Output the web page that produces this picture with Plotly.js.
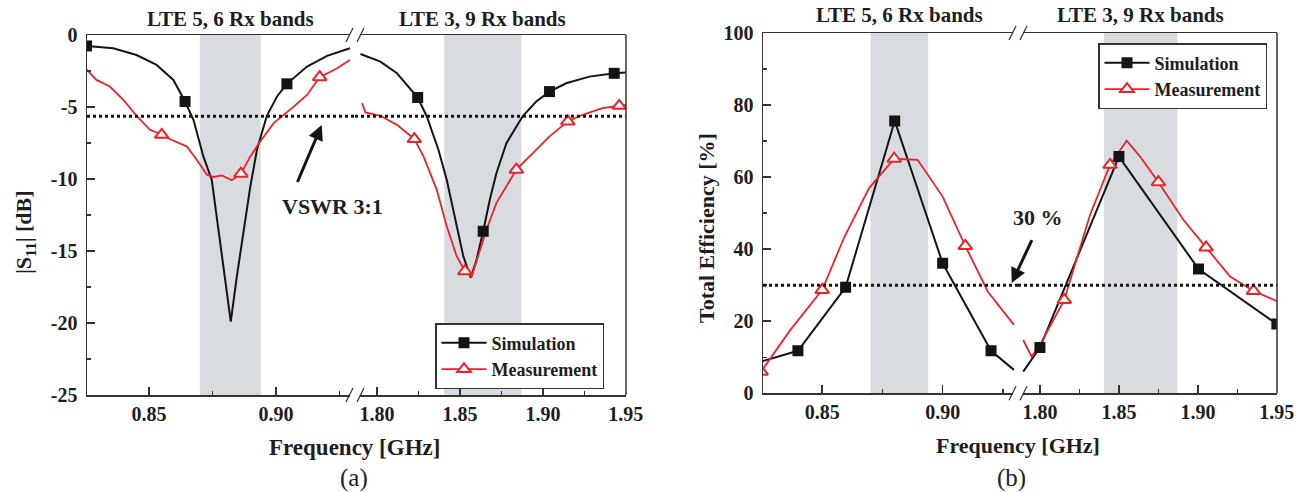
<!DOCTYPE html>
<html><head><meta charset="utf-8">
<script src="https://cdn.plot.ly/plotly-3.0.1.min.js"></script>
<style>html,body{margin:0;padding:0;background:#fff;}#chart{width:1304px;height:493px;}</style>
</head><body><div id="chart"></div>
<script>
// ---------------- DATA ----------------
// (a) |S11| [dB] — low band segment (GHz)
const s11SimFreqLow = [0.8254,0.8359,0.8451,0.8530,0.8596,0.8642,0.8675,0.8714,0.8747,0.8774,0.8793,0.8822,0.8846,0.8872,0.8899,0.8925,0.8964,0.9004,0.9043,0.9122,0.9201,0.9291];
const s11SimLow     = [-0.76,-0.92,-1.39,-2.08,-3.12,-4.62,-5.89,-8.43,-10.05,-13.74,-16.28,-19.9,-16.74,-13.51,-10.51,-7.97,-5.61,-4.27,-3.39,-2.19,-1.45,-0.92];
const s11SimMarkFreqLow = [0.8254,0.8642,0.9043];
const s11SimMarkLow     = [-0.76,-4.62,-3.39];

const s11MeasFreqLow = [0.8254,0.8293,0.8346,0.8399,0.8451,0.8504,0.8550,0.8596,0.8649,0.8688,0.8728,0.8754,0.8787,0.8807,0.8826,0.8862,0.8899,0.8938,0.8991,0.9070,0.9122,0.9172,0.9241,0.9291];
const s11MeasLow     = [-2.38,-3.12,-3.58,-4.50,-5.61,-6.58,-6.93,-7.34,-7.74,-8.66,-9.70,-9.86,-9.75,-9.93,-10.09,-9.63,-8.43,-7.39,-6.12,-4.97,-4.16,-2.93,-2.31,-1.73];
const s11MeasMarkFreqLow = [0.8550,0.8862,0.9172];
const s11MeasMarkLow     = [-6.93,-9.63,-2.93];

// (a) high band segment
const s11SimFreqHigh = [1.790,1.802,1.812,1.8245,1.830,1.837,1.842,1.847,1.852,1.8565,1.860,1.864,1.868,1.872,1.878,1.888,1.896,1.904,1.914,1.928,1.943,1.950];
const s11SimHigh     = [-1.32,-1.85,-2.66,-4.34,-5.66,-7.97,-10.05,-12.59,-15.36,-16.86,-15.59,-13.63,-11.43,-9.58,-7.51,-5.61,-4.62,-3.93,-3.35,-2.89,-2.66,-2.61];
const s11SimMarkFreqHigh = [1.8245,1.864,1.904,1.943];
const s11SimMarkHigh     = [-4.34,-13.63,-3.93,-2.66];

const s11MeasFreqHigh = [1.791,1.793,1.802,1.812,1.8225,1.828,1.836,1.842,1.848,1.853,1.857,1.861,1.866,1.872,1.884,1.894,1.904,1.915,1.924,1.936,1.946,1.950];
const s11MeasHigh     = [-4.73,-5.38,-5.61,-6.24,-7.23,-8.43,-10.74,-13.28,-15.36,-16.40,-16.79,-15.36,-13.51,-11.66,-9.35,-8.20,-7.04,-6.0,-5.54,-5.08,-4.92,-4.85];
const s11MeasMarkFreqHigh = [1.8225,1.853,1.884,1.915,1.946];
const s11MeasMarkHigh     = [-7.23,-16.40,-9.35,-6.0,-4.92];

const vswrLevel = -5.65;           // VSWR 3:1 line
const s11TickVals = [-25,-20,-15,-10,-5,0];
const s11TickText = ['-25','-20','-15','-10','-5','0'];

// (b) Total efficiency [%]
const effSimFreqLow = [0.8246,0.8399,0.8597,0.8801,0.9000,0.9201,0.9296];
const effSimLow     = [8.8,11.8,29.4,75.6,36.1,11.8,6.5];
const effSimMarkFreqLow = [0.8399,0.8597,0.8801,0.9000,0.9201];
const effSimMarkLow     = [11.8,29.4,75.6,36.1,11.8];

const effMeasFreqLow = [0.8246,0.8368,0.85,0.859,0.8694,0.8799,0.8896,0.9,0.9094,0.9188,0.9296];
const effMeasLow     = [6.0,17.6,28.7,43.1,56.9,65.1,64.8,54.6,40.9,28.2,19.0];
const effMeasMarkFreqLow = [0.8246,0.85,0.8799,0.9094];
const effMeasMarkLow     = [6.0,28.7,65.1,40.9];

const effSimFreqHigh = [1.7894,1.80,1.850,1.9004,1.95];
const effSimHigh     = [6.0,12.7,65.7,34.5,19.2];
const effSimMarkFreqHigh = [1.80,1.850,1.9004,1.95];
const effSimMarkHigh     = [12.7,65.7,34.5,19.2];

const effMeasFreqHigh = [1.7894,1.7947,1.80,1.8154,1.8317,1.8444,1.8549,1.8634,1.875,1.8909,1.9052,1.9204,1.9352,1.95];
const effMeasHigh     = [14.8,10.2,13.4,25.9,49.5,63.4,70.1,65.7,58.6,48.1,40.5,32.4,28.4,25.6];
const effMeasMarkFreqHigh = [1.8154,1.8444,1.875,1.9052,1.9352];
const effMeasMarkHigh     = [25.9,63.4,58.6,40.5,28.4];

const effLevel = 30;

// Rx bands (GHz)
const bandLow  = [0.870, 0.894];
const bandHigh = [1.8405, 1.887];
const bandLabels = ['LTE 5, 6 Rx bands', 'LTE 3, 9 Rx bands'];
const seriesNames = ['Simulation', 'Measurement'];

// ---------------- STYLE / LAYOUT ----------------
const W = 1304, H = 493;
const px = v => v / W, py = v => 1 - v / H;
const SERIF = 'Liberation Serif, Times New Roman, serif';
const TXT = '#1e1e1e';
const RED = '#ec2227';
const BLK = '#141414';
const AX = '#333333';
const BAND = '#d8dbe0';

const simLine = {color: BLK, width: 2};
const measLine = {color: RED, width: 1.8};
const simMarker = {symbol: 'square', size: 11, color: BLK, line: {width: 0}};
const measMarker = {symbol: 'triangle-up', size: 12, color: '#ffffff', line: {color: RED, width: 2}};

function lineTrace(x, y, xa, ya, ln) {
  return {type: 'scatter', mode: 'lines', x, y, xaxis: xa, yaxis: ya, line: ln, showlegend: false, hoverinfo: 'skip'};
}
function markTrace(x, y, xa, ya, mk) {
  return {type: 'scatter', mode: 'markers', x, y, xaxis: xa, yaxis: ya, marker: mk, showlegend: false, hoverinfo: 'skip'};
}
function legendTrace(name, ln, mk, xa, ya, lg) {
  return {type: 'scatter', mode: 'lines+markers', x: [null], y: [null], xaxis: xa, yaxis: ya, name, line: ln, marker: mk, legend: lg, showlegend: true};
}

const data = [
  lineTrace(s11SimFreqLow, s11SimLow, 'x', 'y', simLine),
  lineTrace(s11MeasFreqLow, s11MeasLow, 'x', 'y', measLine),
  markTrace(s11SimMarkFreqLow, s11SimMarkLow, 'x', 'y', simMarker),
  markTrace(s11MeasMarkFreqLow, s11MeasMarkLow, 'x', 'y', measMarker),
  lineTrace(s11SimFreqHigh, s11SimHigh, 'x2', 'y', simLine),
  lineTrace(s11MeasFreqHigh, s11MeasHigh, 'x2', 'y', measLine),
  markTrace(s11SimMarkFreqHigh, s11SimMarkHigh, 'x2', 'y', simMarker),
  markTrace(s11MeasMarkFreqHigh, s11MeasMarkHigh, 'x2', 'y', measMarker),

  lineTrace(effSimFreqLow, effSimLow, 'x3', 'y2', simLine),
  lineTrace(effMeasFreqLow, effMeasLow, 'x3', 'y2', measLine),
  markTrace(effSimMarkFreqLow, effSimMarkLow, 'x3', 'y2', simMarker),
  markTrace(effMeasMarkFreqLow, effMeasMarkLow, 'x3', 'y2', measMarker),
  lineTrace(effSimFreqHigh, effSimHigh, 'x4', 'y2', simLine),
  lineTrace(effMeasFreqHigh, effMeasHigh, 'x4', 'y2', measLine),
  markTrace(effSimMarkFreqHigh, effSimMarkHigh, 'x4', 'y2', simMarker),
  markTrace(effMeasMarkFreqHigh, effMeasMarkHigh, 'x4', 'y2', measMarker),

  legendTrace(seriesNames[0], simLine, simMarker, 'x', 'y', 'legend'),
  legendTrace(seriesNames[1], measLine, measMarker, 'x', 'y', 'legend'),
  legendTrace(seriesNames[0], simLine, simMarker, 'x3', 'y2', 'legend2'),
  legendTrace(seriesNames[1], measLine, measMarker, 'x3', 'y2', 'legend2')
];

const tickFont = {family: SERIF, size: 20, color: TXT, weight: 'bold'};
function xAxis(domain, range, anchor) {
  return {
    domain, range, anchor, showline: true, mirror: true, linecolor: AX, linewidth: 1.5,
    ticks: 'inside', ticklen: 8, tickwidth: 1.5, tickcolor: AX,
    tick0: 0.8, dtick: 0.05, tickformat: '.2f', tickfont: tickFont,
    minor: {tick0: 0.8, dtick: 0.025, ticks: 'inside', ticklen: 4, tickwidth: 1.5, tickcolor: AX, showgrid: false},
    showgrid: false, zeroline: false, fixedrange: true
  };
}
function yAxis(domain, range, anchor, extra) {
  return Object.assign({
    domain, range, anchor, showline: true, mirror: false, linecolor: AX, linewidth: 1.5,
    ticks: 'inside', ticklen: 8, tickwidth: 1.5, tickcolor: AX, tickfont: tickFont,
    ticklabelstandoff: 4,
    showgrid: false, zeroline: false, fixedrange: true
  }, extra);
}

// pixel geometry of the two panels
const A = {l: 87, brk: 355, r: 626, t: 35, b: 395};
const B = {l: 763, brk: 1018, r: 1277, t: 33, b: 393.3};

const layout = {
  width: W, height: H, autosize: false,
  margin: {l: 0, r: 0, t: 0, b: 0, pad: 0},
  paper_bgcolor: '#ffffff', plot_bgcolor: '#ffffff',
  font: {family: SERIF, color: TXT},
  xaxis:  xAxis([px(A.l), px(A.brk)], [0.8256, 0.9311], 'y'),
  xaxis2: xAxis([px(A.brk), px(A.r)], [1.7867, 1.9501], 'y'),
  xaxis3: xAxis([px(B.l), px(B.brk)], [0.8254, 0.9313], 'y2'),
  xaxis4: xAxis([px(B.brk), px(B.r)], [1.7861, 1.9501], 'y2'),
  yaxis:  yAxis([py(A.b), py(A.t)], [-25, 0], 'x', {tickvals: s11TickVals, ticktext: s11TickText,
           minor: {tick0: 0, dtick: 2.5, ticks: 'inside', ticklen: 4, tickwidth: 1.5, tickcolor: AX, showgrid: false}}),
  yaxis2: yAxis([py(B.b), py(B.t)], [0, 100], 'x3', {tick0: 0, dtick: 20,
           minor: {tick0: 0, dtick: 10, ticks: 'inside', ticklen: 4, tickwidth: 1.5, tickcolor: AX, showgrid: false}}),
  showlegend: true,
  legend: {x: px(435), y: py(323), xanchor: 'left', yanchor: 'top', bgcolor: '#ffffff',
           bordercolor: AX, borderwidth: 1.5, font: {family: SERIF, size: 18, color: TXT, weight: 'bold'},
           itemwidth: 45, tracegroupgap: 0},
  legend2: {x: px(1098), y: py(43), xanchor: 'left', yanchor: 'top', bgcolor: '#ffffff',
           bordercolor: AX, borderwidth: 1.5, font: {family: SERIF, size: 18, color: TXT, weight: 'bold'},
           itemwidth: 45, tracegroupgap: 0},
  shapes: [],
  annotations: []
};

// shaded bands
[['x', 'y domain'], ['x3', 'y2 domain']].forEach(([xr, yr]) => {
  layout.shapes.push({type: 'rect', xref: xr, yref: yr, x0: bandLow[0], x1: bandLow[1], y0: 0, y1: 1,
                      fillcolor: BAND, line: {width: 0}, layer: 'below'});
});
[['x2', 'y domain'], ['x4', 'y2 domain']].forEach(([xr, yr]) => {
  layout.shapes.push({type: 'rect', xref: xr, yref: yr, x0: bandHigh[0], x1: bandHigh[1], y0: 0, y1: 1,
                      fillcolor: BAND, line: {width: 0}, layer: 'below'});
});
// reference dotted lines
[['x domain', 'y', vswrLevel], ['x2 domain', 'y', vswrLevel], ['x3 domain', 'y2', effLevel], ['x4 domain', 'y2', effLevel]]
  .forEach(([xr, yr, lv]) => {
    layout.shapes.push({type: 'line', xref: xr, yref: yr, x0: 0, x1: 1, y0: lv, y1: lv,
                        line: {color: BLK, width: 3, dash: 'dot'}, layer: 'above'});
  });
// right borders
[['x2 domain', 'y domain'], ['x4 domain', 'y2 domain']].forEach(([xr, yr]) => {
  layout.shapes.push({type: 'line', xref: xr, yref: yr, x0: 1, x1: 1, y0: 0, y1: 1, line: {color: AX, width: 1.5}});
});
// axis break marks
[['x2 domain', 'y domain'], ['x4 domain', 'y2 domain']].forEach(([xr, yr]) => {
  [0, 1].forEach(yv => {
    layout.shapes.push({type: 'rect', xref: xr, yref: yr, xsizemode: 'pixel', ysizemode: 'pixel',
                        xanchor: 0, yanchor: yv, x0: -5, x1: 5, y0: -3, y1: 3,
                        fillcolor: '#ffffff', line: {width: 0}, layer: 'above'});
    [[-9, -2], [2, 9]].forEach(([a, b]) => {
      layout.shapes.push({type: 'line', xref: xr, yref: yr, xsizemode: 'pixel', ysizemode: 'pixel',
                          xanchor: 0, yanchor: yv, x0: a, x1: b, y0: -7, y1: 7,
                          line: {color: AX, width: 1.2}, layer: 'above'});
    });
  });
});

const titleFont = {family: SERIF, size: 21, color: TXT, weight: 'bold'};
const mid = arr => (arr[0] + arr[1]) / 2;
const C = {xanchor: 'center', yanchor: 'middle', showarrow: false};
layout.annotations.push(
  Object.assign({xref: 'x', yref: 'paper', x: mid(bandLow), y: py(19), text: bandLabels[0], font: titleFont}, C),
  Object.assign({xref: 'x2', yref: 'paper', x: mid(bandHigh), y: py(19), text: bandLabels[1], font: titleFont}, C),
  Object.assign({xref: 'x3', yref: 'paper', x: mid(bandLow), y: py(15), text: bandLabels[0], font: titleFont}, C),
  Object.assign({xref: 'x4', yref: 'paper', x: mid(bandHigh), y: py(15), text: bandLabels[1], font: titleFont}, C),
  // x titles
  Object.assign({xref: 'paper', yref: 'paper', x: px(354), y: py(447), text: 'Frequency [GHz]',
   font: {family: SERIF, size: 23, color: TXT, weight: 'bold'}}, C),
  Object.assign({xref: 'paper', yref: 'paper', x: px(1018), y: py(445), text: 'Frequency [GHz]',
   font: {family: SERIF, size: 22, color: TXT, weight: 'bold'}}, C),
  // y titles
  Object.assign({xref: 'paper', yref: 'paper', x: px(25), y: py(232), text: '|S<sub>11</sub>| [dB]', textangle: -90,
   font: {family: SERIF, size: 22, color: TXT, weight: 'bold'}}, C),
  Object.assign({xref: 'paper', yref: 'paper', x: px(706), y: py(228), text: 'Total Efficiency [%]', textangle: -90,
   font: {family: SERIF, size: 22, color: TXT, weight: 'bold'}}, C),
  // panel labels
  Object.assign({xref: 'paper', yref: 'paper', x: px(354), y: py(478), text: '(a)',
   font: {family: SERIF, size: 25, color: TXT}}, C),
  Object.assign({xref: 'paper', yref: 'paper', x: px(1011), y: py(478), text: '(b)',
   font: {family: SERIF, size: 25, color: TXT}}, C),
  // VSWR annotation + arrow
  Object.assign({xref: 'x', yref: 'y', x: 0.9221, y: -11.94, text: 'VSWR 3:1',
   font: {family: SERIF, size: 22, color: TXT, weight: 'bold'}}, C),
  {xref: 'x', yref: 'y', x: 0.918, y: -6.25, ax: -26, ay: 61, text: ' ', showarrow: true,
   arrowhead: 2, arrowsize: 1, arrowwidth: 3, arrowcolor: BLK, standoff: 0, font: {size: 4}},
  // 30 % annotation + arrow
  Object.assign({xref: 'x4', yref: 'y2', x: 1.7987, y: 48.7, text: '30 %',
   font: {family: SERIF, size: 22, color: TXT, weight: 'bold'}}, C),
  {xref: 'x3', yref: 'y2', x: 0.9287, y: 30.6, ax: 22, ay: -47, text: ' ', showarrow: true,
   arrowhead: 2, arrowsize: 1, arrowwidth: 3, arrowcolor: BLK, standoff: 0, font: {size: 4}}
);

Plotly.newPlot('chart', data, layout, {staticPlot: true, displayModeBar: false});
</script>
</body></html>
